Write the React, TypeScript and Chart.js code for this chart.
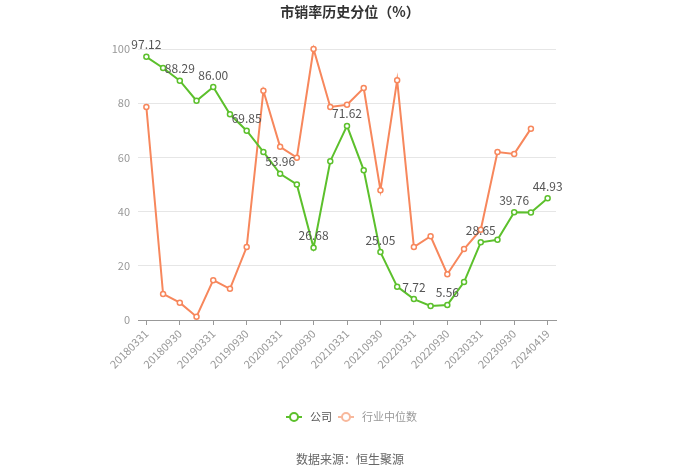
import React, { useEffect, useRef } from "react";
import { Chart, registerables } from "chart.js";

Chart.register(...registerables);

const categories = [
  "20180331", "20180630", "20180930", "20181231",
  "20190331", "20190630", "20190930", "20191231",
  "20200331", "20200630", "20200930", "20201231",
  "20210331", "20210630", "20210930", "20211231",
  "20220331", "20220630", "20220930", "20221231",
  "20230331", "20230630", "20230930", "20231231",
  "20240419",
];

const companyValues = [
  97.12, 93.0, 88.29, 80.9, 86.0, 75.9, 69.85, 62.0, 53.96, 50.0,
  26.68, 58.6, 71.62, 55.3, 25.05, 12.3, 7.72, 5.2, 5.56, 14.0,
  28.65, 29.6, 39.76, 39.7, 44.93,
];

const industryValues = [
  78.6, 9.6, 6.4, 1.2, 14.7, 11.5, 26.9, 84.6, 63.9, 59.9,
  100.0, 78.6, 79.4, 85.6, 47.9, 88.5, 26.9, 30.9, 16.9, 26.2,
  33.3, 62.0, 61.3, 70.6,
];

const labeledIndices = [0, 2, 4, 6, 8, 10, 12, 14, 16, 18, 20, 22, 24];

const yTicks = [0, 20, 40, 60, 80, 100];

const titleText = "市销率历史分位（%）";
const sourceText = "数据来源：恒生聚源";
const seriesNames = ["公司", "行业中位数"];

const GREEN = "#5cc02c";
const ORANGE = "#f7875c";
const FONT = '"Noto Sans CJK SC", "Noto Sans", sans-serif';

export default function App() {
  const canvasRef = useRef<HTMLCanvasElement | null>(null);

  useEffect(() => {
    const canvas = canvasRef.current;
    if (!canvas) return;

    const decorPlugin = {
      id: "decor",
      afterDatasetsDraw(chart: any) {
        const ctx = chart.ctx;
        ctx.save();
        const meta = chart.getDatasetMeta(0);
        ctx.font = `12px ${FONT}`;
        ctx.fillStyle = "#555";
        ctx.textAlign = "center";
        ctx.textBaseline = "middle";
        labeledIndices.forEach((i) => {
          const el = meta.data[i];
          if (!el) return;
          ctx.fillText(companyValues[i].toFixed(2), el.x, el.y - 12);
        });
        ctx.restore();
      },
      afterDraw(chart: any) {
        const ctx = chart.ctx;
        ctx.save();
        ctx.font = `bold 14px ${FONT}`;
        ctx.fillStyle = "#333";
        ctx.textAlign = "center";
        ctx.textBaseline = "middle";
        ctx.fillText(titleText, 350, 12);
        const legendY = 417;
        const items = [
          { x: 286, color: GREEN, text: seriesNames[0], textColor: "#555" },
          { x: 338, color: "#f8b89c", text: seriesNames[1], textColor: "#999" },
        ];
        ctx.font = `11px ${FONT}`;
        ctx.textAlign = "left";
        items.forEach((it) => {
          ctx.strokeStyle = it.color;
          ctx.lineWidth = 2;
          ctx.beginPath();
          ctx.moveTo(it.x, legendY);
          ctx.lineTo(it.x + 16, legendY);
          ctx.stroke();
          ctx.beginPath();
          ctx.arc(it.x + 8, legendY, 4, 0, Math.PI * 2);
          ctx.fillStyle = "#fff";
          ctx.fill();
          ctx.stroke();
          ctx.fillStyle = it.textColor;
          ctx.fillText(it.text, it.x + 24, legendY);
        });
        ctx.font = `12px ${FONT}`;
        ctx.fillStyle = "#666";
        ctx.textAlign = "center";
        ctx.fillText(sourceText, 350, 459);
        ctx.restore();
      },
    };

    const chart = new Chart(canvas, {
      type: "line",
      data: {
        labels: categories,
        datasets: [
          {
            label: seriesNames[0],
            data: companyValues,
            borderColor: GREEN,
            backgroundColor: "#fff",
            pointBackgroundColor: "#fff",
            pointBorderColor: GREEN,
            pointRadius: 2.5,
            pointBorderWidth: 1.5,
            borderWidth: 2,
            tension: 0,
            clip: false,
          },
          {
            label: seriesNames[1],
            data: industryValues,
            borderColor: ORANGE,
            backgroundColor: "#fff",
            pointBackgroundColor: "#fff",
            pointBorderColor: ORANGE,
            pointRadius: 2.5,
            pointBorderWidth: 1.5,
            borderWidth: 2,
            tension: 0,
            clip: false,
          },
        ],
      },
      options: {
        animation: false,
        responsive: true,
        maintainAspectRatio: false,
        layout: { padding: { top: 49, right: 144, left: 0, bottom: 0 } },
        plugins: {
          legend: { display: false },
          title: { display: false },
          tooltip: { enabled: false },
        },
        scales: {
          x: {
            type: "category",
            offset: true,
            afterFit(scale: any) {
              scale.height = 153;
            },
            grid: {
              offset: false,
              drawOnChartArea: false,
              drawTicks: true,
              tickLength: 5,
              color: "#999",
            },
            border: { display: true, color: "#999" },
            ticks: {
              autoSkip: false,
              maxRotation: 45,
              minRotation: 45,
              color: "#999",
              font: { size: 11, family: FONT },
              padding: 2,
              callback(this: any, value: any, index: number) {
                return index % 2 === 0 ? this.getLabelForValue(value) : null;
              },
            },
          },
          y: {
            min: 0,
            max: 100,
            afterFit(scale: any) {
              scale.width = 138;
            },
            afterBuildTicks(scale: any) {
              scale.ticks = yTicks.map((v) => ({ value: v }));
            },
            grid: { color: "#e6e6e6", drawTicks: false },
            border: { display: false },
            ticks: {
              color: "#999",
              font: { size: 11, family: FONT },
              padding: 8,
            },
          },
        },
      },
      plugins: [decorPlugin],
    });

    return () => chart.destroy();
  }, []);

  return (
    <div style={{ position: "fixed", left: 0, top: 0, width: 700, height: 473, background: "#fff" }}>
      <canvas ref={canvasRef} />
    </div>
  );
}
